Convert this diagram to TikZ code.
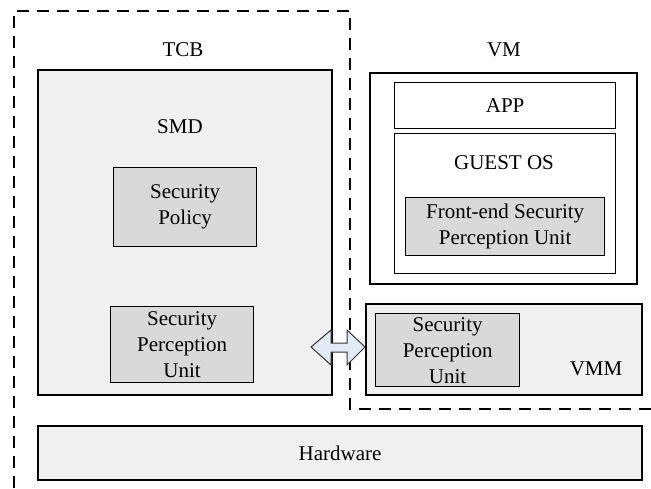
\documentclass[tikz,border=0pt]{standalone}
\usepackage{fontspec}
\setmainfont{Liberation Serif}
\definecolor{paneGray}{HTML}{F0F0F0}
\definecolor{unitGray}{HTML}{D9D9D9}
\definecolor{linkBlue}{HTML}{E2EAF5}
\begin{document}
\begin{tikzpicture}[x=1pt,y=-1pt,
  every node/.style={font=\fontsize{21}{26}\selectfont, inner sep=0pt, align=center},
  heavybox/.style={draw, line width=2pt, anchor=north west},
  lightbox/.style={draw, line width=1.3pt, anchor=north west},
  label/.style={anchor=center},
  boundary/.style={line width=1.3pt, dash pattern=on 12pt off 8pt}]
\useasboundingbox (0,0) rectangle (651,488);

% trusted computing base boundary
\draw[boundary] (14,488) -- (14,11) -- (350,11) -- (350,409) -- (651,409);
\node[label] (tcb) at (183,50) {TCB};

% SMD domain
\node[heavybox, fill=paneGray, minimum width=294pt, minimum height=325pt] (smd) at (37,69) {};
\node[label] (smdlbl) at (180,127) {SMD};
\node[lightbox, fill=unitGray, minimum width=143pt, minimum height=79pt] (policy) at (113,167) {};
\node[label] at (policy.center) {Security\\Policy};
\node[lightbox, fill=unitGray, minimum width=143pt, minimum height=76pt] (spu) at (110,306) {};
\node[label] at (spu.center) {Security\\Perception\\Unit};

% virtual machine
\node[label] (vmlbl) at (504,50) {VM};
\node[heavybox, fill=white, minimum width=267pt, minimum height=211pt] (vm) at (369,72) {};
\node[lightbox, fill=white, minimum width=221pt, minimum height=46pt] (app) at (394,82) {};
\node[label] at (app.center) {APP};
\node[lightbox, fill=white, minimum width=221pt, minimum height=140pt] (guest) at (394,133) {};
\node[label] (guestlbl) at (504,163) {GUEST OS};
\node[lightbox, fill=unitGray, minimum width=199pt, minimum height=58pt] (front) at (405,197) {};
\node[label] at (front.center) {Front-end Security\\Perception Unit};

% hypervisor
\node[heavybox, fill=paneGray, minimum width=276pt, minimum height=91pt] (vmm) at (365,303) {};
\node[lightbox, fill=unitGray, minimum width=144pt, minimum height=73pt] (vspu) at (375,313) {};
\node[label] at (vspu.center) {Security\\Perception\\Unit};
\node[label] (vmmlbl) at (596,369) {VMM};

% hardware layer
\node[heavybox, fill=paneGray, minimum width=604pt, minimum height=54pt] (hw) at (37,425) {};
\node[label] at (hw.center) {Hardware};

% link between the two perception units
\coordinate (lt) at (311,347);
\coordinate (rt) at (365,347);
\draw[line width=1pt, draw=black!80, fill=linkBlue, line join=miter]
  (lt) -- ++(20,-17) -- ++(0,13) -- ++(16,0) -- ++(0,-13) -- (rt)
  -- ++(-18,18) -- ++(0,-13) -- ++(-16,0) -- ++(0,13) -- cycle;
\end{tikzpicture}
\end{document}
